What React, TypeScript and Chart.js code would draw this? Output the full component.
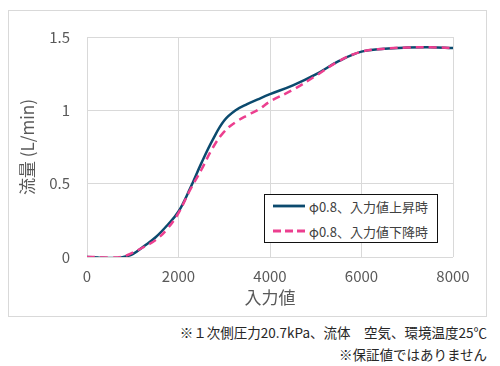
import React, { useEffect, useRef } from "react";
import { Chart, registerables } from "chart.js";

Chart.register(...registerables);

const inputValues = [0, 250, 500, 750, 1000, 1250, 1500, 1750, 2000, 2250, 2500, 2750, 3000, 3250, 3500, 3750, 4000, 4500, 5000, 5500, 6000, 6500, 7000, 7500, 8000];
const risingFlow = [0, -0.003, -0.007, -0.003, 0.02, 0.075, 0.135, 0.215, 0.31, 0.465, 0.64, 0.8, 0.93, 1.0, 1.042, 1.077, 1.11, 1.17, 1.245, 1.335, 1.4, 1.42, 1.428, 1.43, 1.425];
const fallingFlow = [0, -0.002, -0.004, 0.0, 0.03, 0.07, 0.115, 0.19, 0.3, 0.455, 0.595, 0.745, 0.855, 0.92, 0.965, 1.005, 1.06, 1.14, 1.235, 1.335, 1.4, 1.42, 1.428, 1.43, 1.425];
const seriesLabels = ["φ0.8、入力値上昇時", "φ0.8、入力値下降時"];
const xTitle = "入力値";
const yTitle = "流量 (L/min)";
const footnotes = ["※１次側圧力20.7kPa、流体　空気、環境温度25℃", "※保証値ではありません"];

const NAVY = "#0b4a6e";
const PINK = "#ec3f8f";
const FONT = "'Noto Sans CJK JP', 'Noto Sans', sans-serif";

export default function App() {
  const canvasRef = useRef<HTMLCanvasElement | null>(null);

  useEffect(() => {
    if (!canvasRef.current) return;
    const chart = new Chart(canvasRef.current, {
      type: "line",
      data: {
        datasets: [
          {
            label: seriesLabels[0],
            data: inputValues.map((x, i) => ({ x, y: risingFlow[i] })),
            borderColor: NAVY,
            borderWidth: 2.5,
            pointRadius: 0,
            tension: 0.4,
            fill: false,
            order: 1,
          },
          {
            label: seriesLabels[1],
            data: inputValues.map((x, i) => ({ x, y: fallingFlow[i] })),
            borderColor: PINK,
            borderWidth: 2.5,
            borderDash: [8, 5],
            pointRadius: 0,
            tension: 0.4,
            fill: false,
            order: 0,
          },
        ],
      },
      options: {
        animation: false,
        responsive: false,
        maintainAspectRatio: false,
        layout: { padding: { left: 0, right: 33, top: 20, bottom: 0 } },
        plugins: { legend: { display: false }, tooltip: { enabled: false } },
        scales: {
          x: {
            type: "linear",
            min: 0,
            max: 8000,
            ticks: { stepSize: 2000, color: "#595959", font: { family: FONT, size: 15 }, padding: 10, maxRotation: 0, callback: (v: any) => String(v) },
            grid: { color: "#d9d9d9", lineWidth: 1, drawTicks: false },
            border: { display: false },
            title: { display: true, text: xTitle, color: "#595959", font: { family: FONT, size: 17 }, padding: { top: 8, bottom: 8 } },
            afterFit: (scale: any) => { scale.height = 59; },
          },
          y: {
            min: 0,
            max: 1.5,
            ticks: { stepSize: 0.5, color: "#595959", font: { family: FONT, size: 15 }, padding: 17, callback: (v: any) => String(v) },
            grid: { color: "#d9d9d9", lineWidth: 1, drawTicks: false },
            border: { display: false },
            title: { display: true, text: yTitle, color: "#595959", font: { family: FONT, size: 17 }, padding: { top: 8, bottom: 8 } },
            afterFit: (scale: any) => { scale.width = 78; },
          },
        },
      },
    });
    return () => chart.destroy();
  }, []);

  return (
    <div style={{ paddingTop: 2, fontFamily: FONT }}>
      <div style={{ position: "relative", width: 479, height: 307, border: "1px solid #d9d9d9", boxSizing: "border-box", background: "#fff" }}>
        <canvas ref={canvasRef} width={477} height={305} style={{ display: "block", width: 477, height: 305 }} />
        <div style={{ position: "absolute", left: 255, top: 183, width: 174, height: 49, border: "1.5px solid #111", boxSizing: "border-box", background: "#fff", fontSize: 13, color: "#404040" }}>
          {seriesLabels.map((label, i) => (
            <div key={label} style={{ position: "absolute", left: 8, top: i === 0 ? 1 : 26, height: 20, display: "flex", alignItems: "center", whiteSpace: "nowrap" }}>
              <svg width={32} height={6} style={{ display: "block" }}>
                <line x1={0} y1={3} x2={32} y2={3} stroke={i === 0 ? NAVY : PINK} strokeWidth={2.8} strokeDasharray={i === 0 ? undefined : "8 4"} />
              </svg>
              <span style={{ marginLeft: 4 }}>{label}</span>
            </div>
          ))}
        </div>
      </div>
      <div style={{ width: 479, textAlign: "right", fontSize: 13.5, lineHeight: "22px", color: "#262626", marginTop: 4 }}>
        {footnotes.map((f) => (
          <div key={f}>{f}</div>
        ))}
      </div>
    </div>
  );
}
